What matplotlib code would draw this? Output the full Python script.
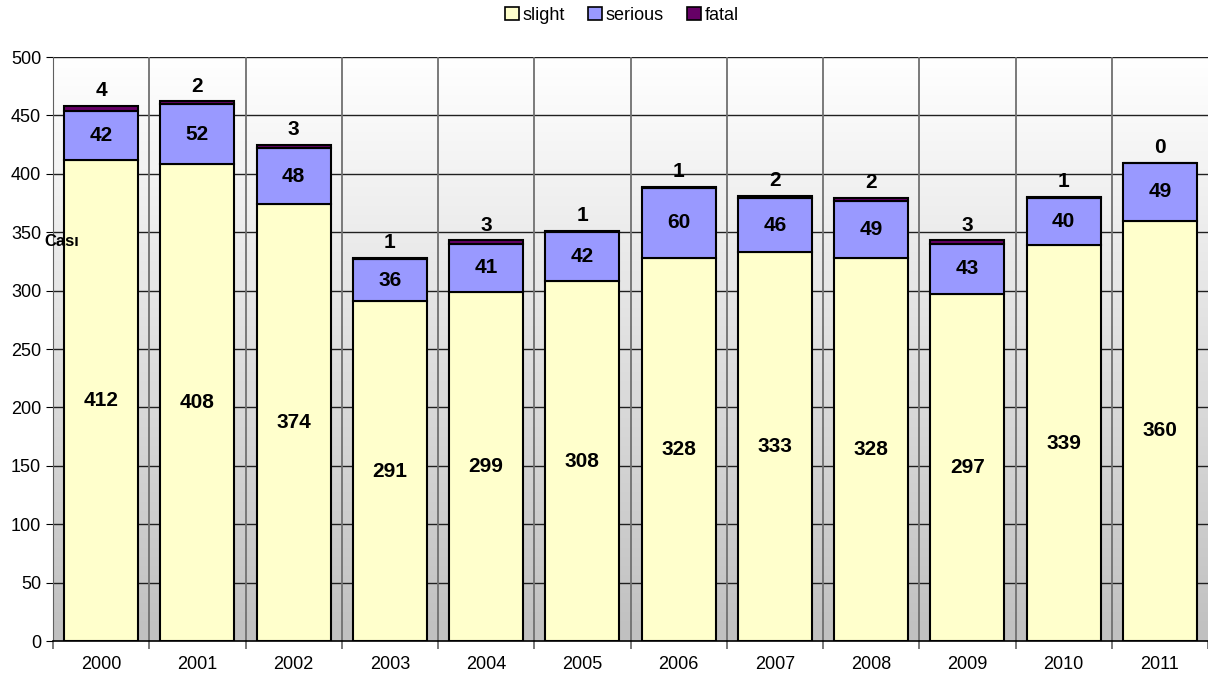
import numpy as np
import matplotlib
matplotlib.use("Agg")
import matplotlib.pyplot as plt
from matplotlib.patches import Patch
from matplotlib.colors import LinearSegmentedColormap

plt.rcParams['font.family'] = ['Liberation Sans', 'DejaVu Sans']

years = ['2000', '2001', '2002', '2003', '2004', '2005', '2006', '2007', '2008', '2009', '2010', '2011']
slight = [412, 408, 374, 291, 299, 308, 328, 333, 328, 297, 339, 360]
serious = [42, 52, 48, 36, 41, 42, 60, 46, 49, 43, 40, 49]
fatal = [4, 2, 3, 1, 3, 1, 1, 2, 2, 3, 1, 0]
yticks = [0, 50, 100, 150, 200, 250, 300, 350, 400, 450, 500]

c_slight, c_serious, c_fatal = '#FFFFCC', '#9999FF', '#660066'

fig = plt.figure(figsize=(12.08, 6.79), dpi=100)
ax = fig.add_axes([53/1208, 1-641/679, 1-53/1208, (641-57)/679])

x = np.arange(len(years))
ax.set_xlim(-0.5, len(years)-0.5)
ax.set_ylim(0, 500)

# gradient background
grad = np.linspace(0, 1, 256).reshape(-1, 1)
cm = LinearSegmentedColormap.from_list('g', ['#c0c0c0', '#ffffff'])
ax.imshow(grad, extent=[-0.5, len(years)-0.5, 0, 500], aspect='auto', cmap=cm,
          origin='lower', zorder=0, vmin=0, vmax=1)

for yv in yticks[1:]:
    ax.axhline(yv, color='#202020', lw=1, zorder=1)
for b in np.arange(0.5, len(years)-0.5, 1):
    ax.axvline(b, color='#707070', lw=1.3, zorder=1)

w = 0.77
s = np.array(slight); se = np.array(serious); f = np.array(fatal)
ax.bar(x, s, w, color=c_slight, edgecolor='black', lw=1.5, zorder=3)
ax.bar(x, se, w, bottom=s, color=c_serious, edgecolor='black', lw=1.5, zorder=3)
ax.bar(x, f, w, bottom=s+se, color=c_fatal, edgecolor='black', lw=1.5, zorder=3)

lab = dict(ha='center', fontsize=15, fontweight='bold', zorder=5)
for i in range(len(years)):
    ax.text(x[i], s[i]/2, str(slight[i]), va='center', **lab)
    ax.text(x[i], s[i] + se[i]/2, str(serious[i]), va='center', **lab)
    ax.text(x[i], s[i] + se[i] + f[i] + 5, str(fatal[i]), va='bottom', **lab)

ax.set_yticks(yticks)
ax.tick_params(axis='y', labelsize=13, length=5, direction='out', color='black')
ax.set_xticks(np.arange(-0.5, len(years), 1))
ax.set_xticklabels([])
ax.set_xticks(x, minor=True)
ax.set_xticklabels(years, minor=True)
ax.tick_params(axis='x', which='major', length=6, color='#707070', width=1.3)
ax.tick_params(axis='x', which='minor', length=0, labelsize=13, pad=11)

for sp in ['top', 'right']:
    ax.spines[sp].set_visible(False)
ax.spines['left'].set_color('#606060')
ax.spines['bottom'].set_color('black')
ax.spines['bottom'].set_linewidth(1.2)

fig.text(44/1208, 1-241/679, 'Cası', fontsize=12, fontweight='bold', ha='left', va='center')

handles = [Patch(facecolor=c, edgecolor='black', lw=1.2) for c in (c_slight, c_serious, c_fatal)]
fig.legend(handles, ['slight', 'serious', 'fatal'], loc='center', bbox_to_anchor=(622/1208, 1-15/679),
           ncol=3, frameon=False, fontsize=13, handlelength=0.75, handleheight=0.75,
           handletextpad=0.2, columnspacing=1.3)

fig.savefig('out.png', dpi=100)
